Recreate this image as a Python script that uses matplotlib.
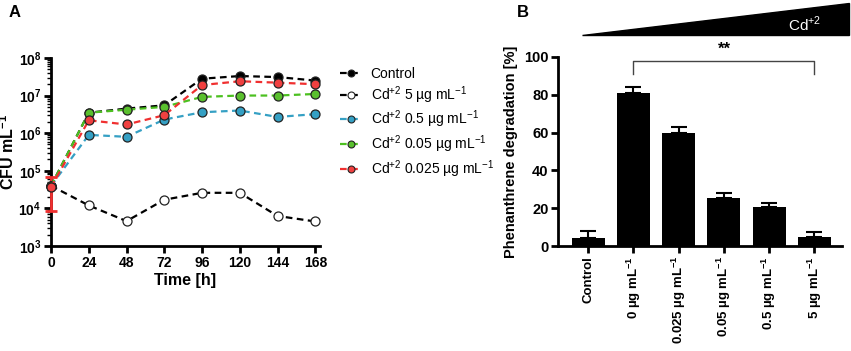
import matplotlib.pyplot as plt
from matplotlib.patches import Polygon
from matplotlib.lines import Line2D
from matplotlib.ticker import LogLocator, NullFormatter

plt.rcParams['font.family'] = ['Liberation Sans', 'DejaVu Sans']
plt.rcParams['mathtext.fontset'] = 'custom'
plt.rcParams['mathtext.rm'] = 'Liberation Sans'
plt.rcParams['mathtext.bf'] = 'Liberation Sans:bold'

# panel A data
hours = [0, 24, 48, 72, 96, 120, 144, 168]
control = [4e4, 3.5e6, 4.5e6, 5.5e6, 2.8e7, 3.3e7, 3.1e7, 2.5e7]
cd_5 = [4e4, 1.2e4, 4.6e3, 1.7e4, 2.6e4, 2.6e4, 6.3e3, 4.5e3]
cd_05 = [4e4, 9e5, 8e5, 2.3e6, 3.6e6, 4e6, 2.7e6, 3.2e6]
cd_005 = [4e4, 3.5e6, 4.2e6, 5e6, 9.2e6, 1e7, 1e7, 1.1e7]
cd_0025 = [3.7e4, 2.2e6, 1.7e6, 3e6, 1.9e7, 2.4e7, 2.2e7, 2e7]
red_err_lo = 8.5e3
red_err_hi = 7e4

# panel B data
groups = ["Control", "0 µg mL$^{\\mathbf{-1}}$", "0.025 µg mL$^{\\mathbf{-1}}$",
          "0.05 µg mL$^{\\mathbf{-1}}$", "0.5 µg mL$^{\\mathbf{-1}}$",
          "5 µg mL$^{\\mathbf{-1}}$"]
degradation = [4.5, 81, 60, 25.5, 20.5, 5]
deg_err = [3.5, 3, 3, 2.5, 2.5, 2.5]

fig = plt.figure(figsize=(8.51, 3.51), dpi=100)

# ---- panel A
ax1 = fig.add_axes([0.06, 0.299, 0.316, 0.536])
series = [
    (control, "black", "black", "Control"),
    (cd_5, "black", "white", "Cd$^{+2}$ 5 µg mL$^{-1}$"),
    (cd_05, "#35a0c4", "#35a0c4", "Cd$^{+2}$ 0.5 µg mL$^{-1}$"),
    (cd_005, "#4cc020", "#5ac02e", "Cd$^{+2}$ 0.05 µg mL$^{-1}$"),
    (cd_0025, "#f03030", "#f04040", "Cd$^{+2}$ 0.025 µg mL$^{-1}$"),
]
handles = []
for vals, lc, fc, lab in series:
    ax1.plot(hours, vals, ls=(0, (3, 2)), color=lc, lw=1.6, marker='o', ms=6.5,
             mfc=fc, mec='#222222', mew=0.9, clip_on=False, zorder=3)
    handles.append(Line2D([0], [0], ls=(0, (3, 2)), color=lc, lw=1.6, marker='o',
                          ms=5, mfc=fc, mec='#222222', mew=0.8, label=lab))
ax1.errorbar([0], [cd_0025[0]],
             yerr=[[cd_0025[0] - red_err_lo], [red_err_hi - cd_0025[0]]],
             color="#f03030", lw=2, capsize=4, capthick=2, clip_on=False, zorder=2.7)

ax1.set_yscale('log')
ax1.set_ylim(1e3, 1e8)
ax1.set_xlim(0, 171)
ax1.set_xticks(hours)
ax1.yaxis.set_minor_locator(LogLocator(base=10, subs=range(2, 10), numticks=20))
ax1.yaxis.set_minor_formatter(NullFormatter())
for s in ['top', 'right']:
    ax1.spines[s].set_visible(False)
for s in ['left', 'bottom']:
    ax1.spines[s].set_linewidth(2)
ax1.tick_params(width=2, length=5, labelsize=10, pad=2)
ax1.tick_params(which='minor', width=1, length=3)
for t in ax1.get_xticklabels() + ax1.get_yticklabels():
    t.set_fontweight('bold')
ax1.set_xlabel("Time [h]", fontsize=11.5, fontweight='bold', labelpad=2)
ax1.set_ylabel("CFU mL$^{\\mathbf{-1}}$", fontsize=11.5, fontweight='bold', labelpad=1)
fig.legend(handles=handles, loc='upper left', bbox_to_anchor=(0.385, 0.845),
           frameon=False, fontsize=10, handlelength=1.6, handletextpad=0.6,
           labelspacing=0.22)
fig.text(0.01, 0.985, "A", fontsize=12, fontweight='bold', va='top')

# ---- panel B
ax2 = fig.add_axes([0.656, 0.299, 0.333, 0.539])
xpos = range(len(groups))
ax2.bar(xpos, degradation, width=0.73, color='black', zorder=2)
ax2.errorbar(xpos, degradation, yerr=[[0] * len(deg_err), deg_err], fmt='none',
             ecolor='black', lw=1.5, capsize=6, capthick=1.5, zorder=1)
ax2.set_ylim(0, 100)
ax2.set_xlim(-0.66, 5.6)
ax2.set_yticks([0, 20, 40, 60, 80, 100])
ax2.set_xticks(list(xpos))
ax2.set_xticklabels(groups, rotation=90, fontweight='bold', fontsize=9.5)
for t in ax2.get_yticklabels():
    t.set_fontweight('bold')
for s in ['top', 'right']:
    ax2.spines[s].set_visible(False)
for s in ['left', 'bottom']:
    ax2.spines[s].set_linewidth(2)
ax2.tick_params(width=2, length=5, labelsize=10.5, pad=2)
ax2.tick_params(axis='x', labelsize=9.5)
ax2.set_ylabel("Phenanthrene degradation [%]", fontsize=10.5, fontweight='bold')

# significance bracket
ax2.plot([1, 1, 5, 5], [91, 98, 98, 91], color='#444444', lw=1, clip_on=False)
ax2.text(3, 100, "**", ha='center', va='bottom', fontsize=12, fontweight='bold')

# concentration wedge
wedge = Polygon([(582 / 851, 1 - 35 / 351), (849 / 851, 1 - 35 / 351),
                 (849 / 851, 1 - 3 / 351)], closed=True, color='black',
                transform=fig.transFigure)
fig.add_artist(wedge)
fig.text(805 / 851, 1 - 24 / 351, "Cd$^{+2}$", color='white', fontsize=11,
         ha='center', va='center')
fig.text(0.607, 0.985, "B", fontsize=12, fontweight='bold', va='top')

fig.savefig("out.png", dpi=100)
